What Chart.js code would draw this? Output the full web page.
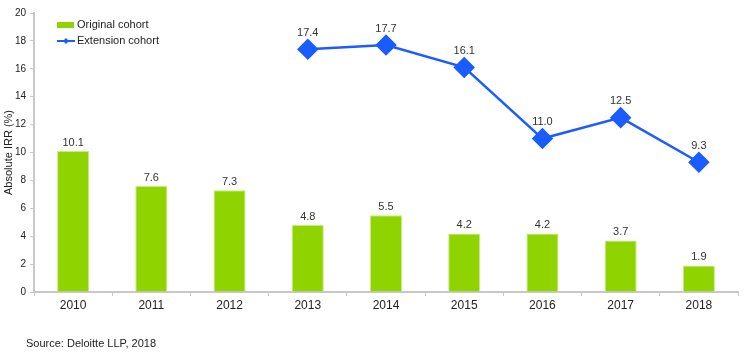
<!DOCTYPE html>
<html><head><meta charset="utf-8">
<script src="https://cdn.jsdelivr.net/npm/chart.js@4/dist/chart.umd.min.js"></script>
<style>
html,body{margin:0;padding:0;background:#fff;}
#wrap{position:relative;width:750px;height:357px;}
#src{position:absolute;left:26px;top:337px;font:11px "Liberation Sans",Arial,sans-serif;color:#222;}
</style></head>
<body><div id="wrap"><canvas id="c" width="750" height="357"></canvas><div id="src">Source: Deloitte LLP, 2018</div></div>
<script>
const years = ['2010','2011','2012','2013','2014','2015','2016','2017','2018'];
const originalCohort = [10.1, 7.6, 7.3, 4.8, 5.5, 4.2, 4.2, 3.7, 1.9];
const extensionCohort = [null, null, null, 17.4, 17.7, 16.1, 11.0, 12.5, 9.3];
const yTicks = [0,2,4,6,8,10,12,14,16,18,20];

const FONT = '"Liberation Sans", Arial, sans-serif';
const GREEN = '#8fd400';
const BLUE = '#1a5cff';

const labelsPlugin = {
  id: 'labels',
  afterDatasetsDraw(chart) {
    const ctx = chart.ctx;
    ctx.save();
    ctx.font = '11px ' + FONT;
    ctx.fillStyle = '#333';
    ctx.textAlign = 'center';
    ctx.textBaseline = 'bottom';
    chart.getDatasetMeta(0).data.forEach((el, i) => {
      ctx.fillText(originalCohort[i].toFixed(1), el.x, el.y - 3);
    });
    chart.getDatasetMeta(1).data.forEach((el, i) => {
      if (extensionCohort[i] == null) return;
      ctx.fillText(extensionCohort[i].toFixed(1), el.x, el.y - 11);
    });
    // legend
    ctx.textAlign = 'left';
    ctx.textBaseline = 'middle';
    ctx.fillStyle = GREEN;
    ctx.fillRect(57, 22, 17, 6);
    ctx.fillStyle = '#222';
    ctx.fillText('Original cohort', 77, 25);
    ctx.strokeStyle = BLUE; ctx.lineWidth = 2;
    ctx.beginPath(); ctx.moveTo(57, 41); ctx.lineTo(75, 41); ctx.stroke();
    ctx.fillStyle = BLUE;
    ctx.beginPath(); ctx.moveTo(66, 38); ctx.lineTo(69, 41); ctx.lineTo(66, 44); ctx.lineTo(63, 41); ctx.closePath(); ctx.fill();
    ctx.fillStyle = '#222';
    ctx.fillText('Extension cohort', 77, 41);
    ctx.restore();
  }
};

new Chart(document.getElementById('c'), {
  data: {
    labels: years,
    datasets: [
      { type: 'bar', label: 'Original cohort', data: originalCohort, backgroundColor: GREEN,
        borderColor: '#c8ec80', borderWidth: 1, barPercentage: 0.41, categoryPercentage: 1.0, order: 2 },
      { type: 'line', label: 'Extension cohort', data: extensionCohort, borderColor: BLUE, backgroundColor: BLUE,
        borderWidth: 2.5, pointStyle: 'rectRot', pointRadius: 9, pointHoverRadius: 9, spanGaps: false, order: 1 }
    ]
  },
  options: {
    responsive: false, animation: false,
    layout: { padding: { top: 13, right: 12, left: 0, bottom: 0 } },
    plugins: { legend: { display: false }, tooltip: { enabled: false } },
    scales: {
      x: {
        grid: { display: true, drawOnChartArea: false, offset: true, tickLength: 4, color: '#c8c8c8' },
        border: { color: '#c8c8c8', width: 2 },
        ticks: { font: { family: FONT, size: 12 }, color: '#222', padding: 2 },
        afterFit(s) { s.height = 65; }
      },
      y: {
        min: 0, max: 20,
        afterBuildTicks(s) { s.ticks = yTicks.map(v => ({ value: v })); },
        grid: { display: true, drawOnChartArea: false, tickLength: 4, color: '#c8c8c8' },
        border: { color: '#c8c8c8', width: 2 },
        ticks: { font: { family: FONT, size: 10 }, color: '#222', padding: 4 },
        title: { display: true, text: 'Absolute IRR (%)', font: { family: FONT, size: 11 }, color: '#222', padding: { top: 2, bottom: 0 } },
        afterFit(s) { s.width = 34; }
      }
    }
  },
  plugins: [labelsPlugin]
});
</script></body></html>
